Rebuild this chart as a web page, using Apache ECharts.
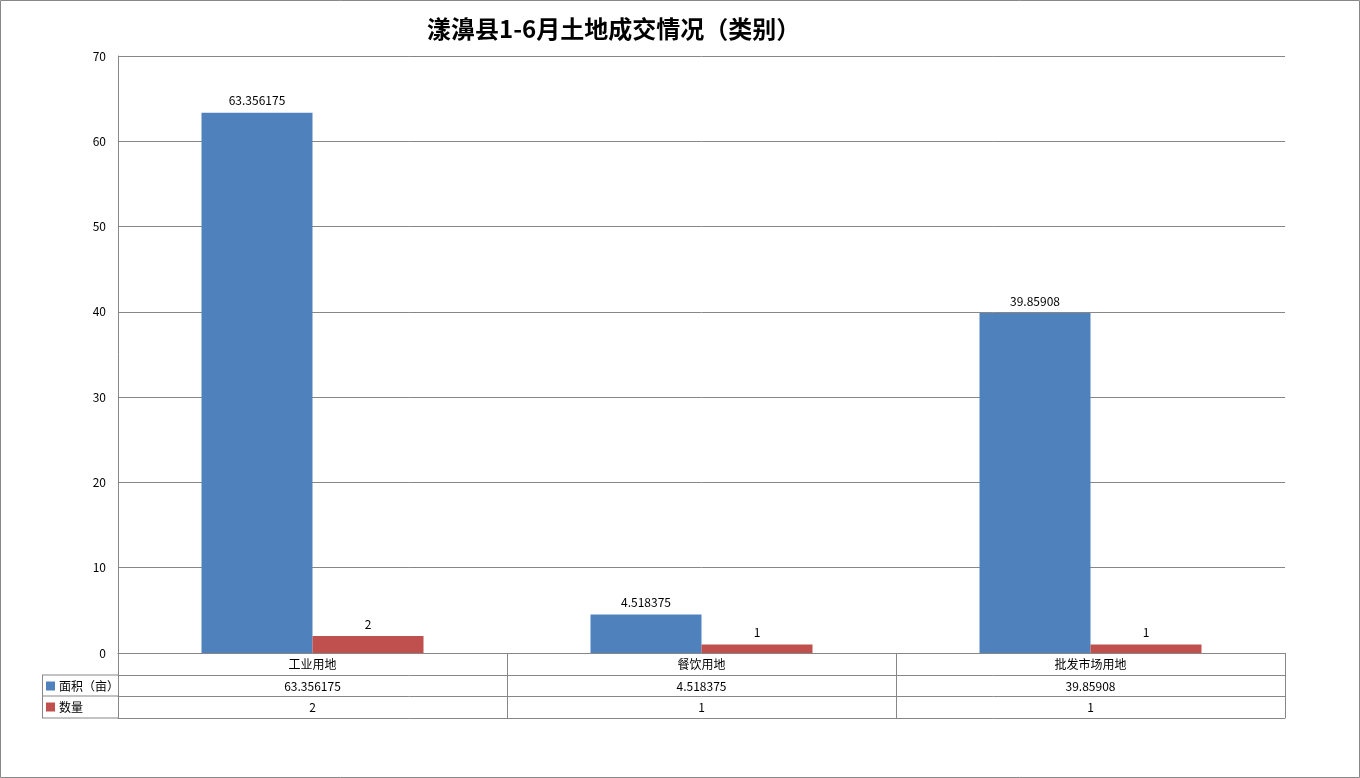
<!DOCTYPE html>
<html>
<head>
<meta charset="utf-8">
<script src="https://cdn.jsdelivr.net/npm/echarts@6/dist/echarts.min.js"></script>
<style>
html,body{margin:0;padding:0;background:#fff;}
#c{width:1360px;height:778px;}
</style>
</head>
<body>
<div id="c"></div>
<script>
const title = '漾濞县1-6月土地成交情况（类别）';
const categories = ['工业用地', '餐饮用地', '批发市场用地'];
const seriesNames = ['面积（亩）', '数量'];
const areaValues = [63.356175, 4.518375, 39.85908];
const countValues = [2, 1, 1];

const FONT = '"Noto Sans CJK SC", "Liberation Sans", sans-serif';
const gridColor = '#878787';
const chart = echarts.init(document.getElementById('c'));

const L = 118, R = 1285, B = 653;
const tableAxis = (off, data, showLabel) => ({
  type: 'category', gridIndex: 0, position: 'bottom', offset: off,
  data: data,
  axisLine: { show: true, lineStyle: { color: gridColor, width: 1 } },
  axisTick: { show: false },
  axisLabel: { show: showLabel, margin: 5, color: '#000', fontSize: 12, fontFamily: FONT },
  splitLine: { show: false }
});

chart.setOption({
  animation: false,
  textStyle: { fontFamily: FONT },
  title: {
    text: title, left: 422, top: 12,
    textStyle: { fontSize: 24, fontWeight: 'bold', color: '#000', fontFamily: FONT }
  },
  legend: {
    orient: 'vertical', left: 46, top: 678, padding: 0, itemWidth: 9, itemHeight: 9, itemGap: 5,
    icon: 'rect', selectedMode: false,
    textStyle: { fontSize: 12, lineHeight: 16, color: '#000', fontFamily: FONT, padding: [0, 0, 0, -1] },
    data: seriesNames
  },
  grid: { left: L, right: 1360 - R, top: 56, bottom: 778 - B, containLabel: false },
  xAxis: [
    {
      type: 'category', data: categories, position: 'bottom',
      axisLine: { show: true, lineStyle: { color: gridColor, width: 1 } },
      axisTick: { show: true, length: 65, inside: false, lineStyle: { color: gridColor, width: 1 } },
      axisLabel: { margin: 5, color: '#000', fontSize: 12, fontFamily: FONT },
      splitLine: { show: false }
    },
    tableAxis(22, areaValues.map(String), true),
    tableAxis(43, countValues.map(String), true),
    tableAxis(65, categories.map(() => ''), false)
  ],
  yAxis: {
    type: 'value', min: 0, max: 70, interval: 10,
    axisLine: { show: true, lineStyle: { color: gridColor, width: 1 } },
    axisTick: { show: false },
    axisLabel: { margin: 12, color: '#000', fontSize: 12, fontFamily: FONT },
    splitLine: { show: true, lineStyle: { color: gridColor, width: 1 } }
  },
  series: [
    {
      name: seriesNames[0], type: 'bar', data: areaValues, barWidth: 111, barGap: '0%',
      itemStyle: { color: '#4F81BD' },
      label: { show: true, position: 'top', distance: 6, color: '#000', fontSize: 12, fontFamily: FONT }
    },
    {
      name: seriesNames[1], type: 'bar', data: countValues, barWidth: 111, barGap: '0%',
      itemStyle: { color: '#C0504D' },
      label: { show: true, position: 'top', distance: 6, color: '#000', fontSize: 12, fontFamily: FONT }
    }
  ],
  graphic: [
    { type: 'rect', shape: { x: 0.5, y: 0.5, width: 1359, height: 777 }, style: { fill: 'none', stroke: '#888', lineWidth: 1 }, silent: true },
    { type: 'line', shape: { x1: 42, y1: 675, x2: L, y2: 675 }, style: { stroke: gridColor, lineWidth: 1 }, silent: true },
    { type: 'line', shape: { x1: 42, y1: 696, x2: L, y2: 696 }, style: { stroke: gridColor, lineWidth: 1 }, silent: true },
    { type: 'line', shape: { x1: 42, y1: 718, x2: L, y2: 718 }, style: { stroke: gridColor, lineWidth: 1 }, silent: true },
    { type: 'line', shape: { x1: 42.5, y1: 675, x2: 42.5, y2: 718 }, style: { stroke: gridColor, lineWidth: 1 }, silent: true }
  ]
});
</script>
</body>
</html>
